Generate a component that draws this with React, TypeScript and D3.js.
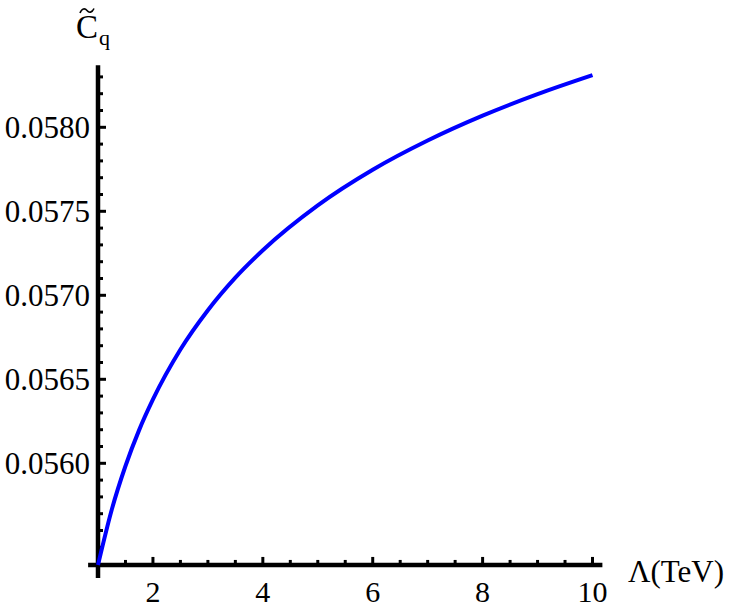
import React from "react";
import * as d3 from "d3";

const lambdaTeV = [1, 1.25, 1.5, 1.75, 2, 2.5, 3, 3.5, 4, 5, 6, 7, 8, 9, 10];
const cqValues = [0.055395, 0.055724, 0.055984, 0.056199, 0.05638, 0.056677, 0.056911, 0.057105, 0.057268, 0.057535, 0.057747, 0.057921, 0.058069, 0.058197, 0.05831];
const xMajorTicks = [2, 4, 6, 8, 10];
const yMajorTicks = [0.056, 0.0565, 0.057, 0.0575, 0.058];
const yTickLabels = ["0.0560", "0.0565", "0.0570", "0.0575", "0.0580"];

export default function App() {
  const W = 750, H = 613;
  const x = d3.scaleLinear().domain([1, 10]).range([98, 592.5]);
  const y = d3.scaleLinear().domain([0.056, 0.058]).range([463.3, 127.3]);
  const xAxisY = y(0.055395);
  const yAxisX = x(1);

  const xMinor = d3.range(1.5, 10.01, 0.5).filter(v => Math.abs(v / 2 - Math.round(v / 2)) > 1e-6);
  const yMinor = d3.range(0.0555, 0.05835, 0.0001).filter(v => !yMajorTicks.some(m => Math.abs(m - v) < 1e-8));

  const line = d3.line<number>()
    .x((_, i) => x(lambdaTeV[i]))
    .y(d => y(d))
    .curve(d3.curveMonotoneX);

  const font = "Times New Roman, Times, Liberation Serif, Tinos, DejaVu Serif, Noto Serif, serif";

  return (
    <svg width={W} height={H} style={{ position: "absolute", left: 0, top: 0, background: "#fff" }}>
      <rect width={W} height={H} fill="#fff" />
      {/* axes */}
      <line x1={x(0.82)} x2={x(10.18)} y1={xAxisY} y2={xAxisY} stroke="#000" strokeWidth={4.5} />
      <line x1={yAxisX} x2={yAxisX} y1={y(0.058369)} y2={xAxisY + 13} stroke="#000" strokeWidth={4.5} />
      {/* x ticks */}
      {xMajorTicks.map(t => (
        <line key={"xM" + t} x1={x(t)} x2={x(t)} y1={xAxisY} y2={xAxisY - 8} stroke="#000" strokeWidth={3} />
      ))}
      {xMinor.map(t => (
        <line key={"xm" + t} x1={x(t)} x2={x(t)} y1={xAxisY} y2={xAxisY - 5} stroke="#000" strokeWidth={3} />
      ))}
      {/* y ticks */}
      {yMajorTicks.map(t => (
        <line key={"yM" + t} x1={yAxisX} x2={yAxisX + 8} y1={y(t)} y2={y(t)} stroke="#000" strokeWidth={3} />
      ))}
      {yMinor.map(t => (
        <line key={"ym" + t} x1={yAxisX} x2={yAxisX + 5} y1={y(t)} y2={y(t)} stroke="#000" strokeWidth={3} />
      ))}
      {/* tick labels */}
      {xMajorTicks.map(t => (
        <text key={"xl" + t} x={x(t)} y={602} textAnchor="middle" fontFamily={font} fontSize={30}>{t}</text>
      ))}
      {yMajorTicks.map((t, i) => (
        <text key={"yl" + t} x={90} y={y(t)} dy="0.35em" textAnchor="end" fontFamily={font} fontSize={31}>{yTickLabels[i]}</text>
      ))}
      {/* curve */}
      <path d={line(cqValues) || ""} fill="none" stroke="#0000ff" strokeWidth={4} />
      {/* axis labels */}
      <text x={628} y={582} fontFamily={font} fontSize={31}>Λ(TeV)</text>
      <text x={76} y={38} fontFamily={font} fontSize={33}>C</text>
      <path d="M80,13 C82,8 85,8 87,10.5 C89,13 92,13 94,8.5" fill="none" stroke="#000" strokeWidth={1.6} />
      <text x={99} y={45} fontFamily={font} fontSize={22}>q</text>
    </svg>
  );
}
